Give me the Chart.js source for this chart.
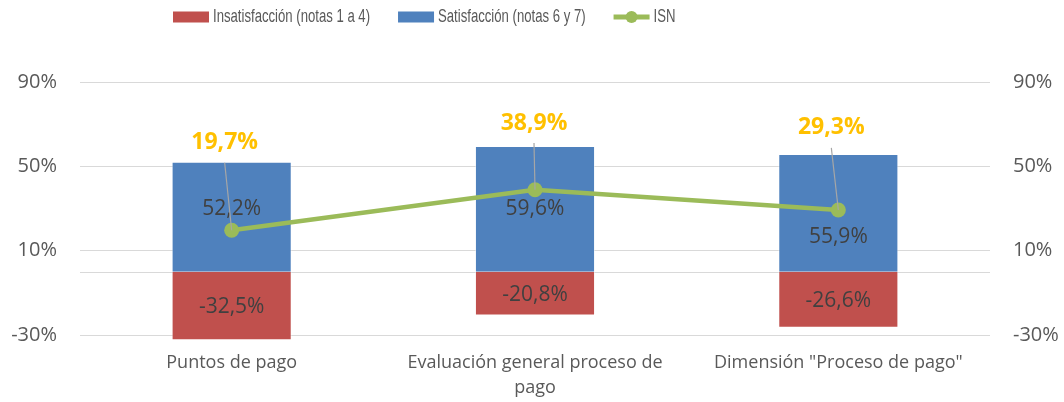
<!DOCTYPE html>
<html><head><meta charset="utf-8">
<script src="https://cdn.jsdelivr.net/npm/chart.js@4.4.0/dist/chart.umd.min.js"></script>
<style>html,body{margin:0;padding:0;background:#fff;}</style>
</head><body>
<canvas id="c" width="1064" height="402"></canvas>
<script>
const categories = ['Puntos de pago', ['Evaluación general proceso de', 'pago'], 'Dimensión "Proceso de pago"'];
const seriesNames = ['Insatisfacción (notas 1 a 4)', 'Satisfacción (notas 6 y 7)', 'ISN'];
const insatisfaccion = [-32.5, -20.8, -26.6];
const satisfaccion = [52.2, 59.6, 55.9];
const isn = [19.7, 38.9, 29.3];
const yTicks = [-30, 10, 50, 90];

const RED = '#C0504D', BLUE = '#4F81BD', GREEN = '#9BBB59', GOLD = '#FFC000';
const TICK = '#595959', LABEL = '#404040', GRID = '#D9D9D9';
const fmt = v => v.toFixed(1).replace('.', ',') + '%';

// label placement tweaks (pixels)
const blueLabelDy = [-8, 0, 24];
const isnLabelPos = [{dx: -7, dy: -19}, {dx: -1, dy: -23}, {dx: -7, dy: -26}];

const zeroLine = {
  id: 'zeroLine',
  beforeDatasetsDraw(chart) {
    const {ctx, chartArea, scales} = chart;
    const y = Math.round(scales.y.getPixelForValue(0)) + 0.5;
    ctx.save();
    ctx.strokeStyle = GRID; ctx.lineWidth = 1;
    ctx.beginPath(); ctx.moveTo(chartArea.left, y); ctx.lineTo(chartArea.right, y); ctx.stroke();
    ctx.restore();
  }
};

const valueLabels = {
  id: 'valueLabels',
  afterDatasetsDraw(chart) {
    const ctx = chart.ctx;
    const red = chart.getDatasetMeta(0).data;
    const blue = chart.getDatasetMeta(1).data;
    const pts = chart.getDatasetMeta(2).data;
    ctx.save();
    ctx.textAlign = 'center'; ctx.textBaseline = 'middle';
    ctx.font = '21px "Open Sans", sans-serif';
    ctx.fillStyle = LABEL;
    red.forEach((b, i) => ctx.fillText(fmt(insatisfaccion[i]), b.x, (b.y + b.base) / 2 + 1));
    blue.forEach((b, i) => ctx.fillText(fmt(satisfaccion[i]), b.x, (b.y + b.base) / 2 + blueLabelDy[i]));
    pts.forEach((p, i) => {
      const b = blue[i];
      const lx = b.x + isnLabelPos[i].dx, ly = b.y + isnLabelPos[i].dy;
      ctx.strokeStyle = '#A6A6A6'; ctx.lineWidth = 1.2;
      ctx.beginPath(); ctx.moveTo(lx, ly + 20); ctx.lineTo(p.x, p.y); ctx.stroke();
      ctx.font = 'bold 23px "Open Sans", sans-serif';
      ctx.fillStyle = GOLD;
      ctx.fillText(fmt(isn[i]), lx, ly);
    });
    ctx.restore();
  }
};

const customLegend = {
  id: 'customLegend',
  afterDraw(chart) {
    const ctx = chart.ctx;
    const y = 17;
    const sx = 0.73;
    let x = 173;
    ctx.save();
    ctx.font = '18px "Liberation Sans", Arial, sans-serif';
    ctx.textBaseline = 'middle'; ctx.textAlign = 'left';
    seriesNames.forEach((name, i) => {
      if (i < 2) {
        ctx.fillStyle = i === 0 ? RED : BLUE;
        ctx.fillRect(x, y - 5.5, 36, 11);
      } else {
        ctx.strokeStyle = GREEN; ctx.lineWidth = 5;
        ctx.beginPath(); ctx.moveTo(x, y); ctx.lineTo(x + 36, y); ctx.stroke();
        ctx.fillStyle = GREEN;
        ctx.beginPath(); ctx.arc(x + 18, y, 6, 0, Math.PI * 2); ctx.fill();
      }
      ctx.fillStyle = TICK;
      const tx = x + 40;
      ctx.save();
      ctx.translate(tx, y); ctx.scale(sx, 1);
      ctx.fillText(name, 0, 0);
      ctx.restore();
      x = tx + ctx.measureText(name).width * sx + 28;
    });
    ctx.restore();
  }
};

new Chart(document.getElementById('c'), {
  data: {
    labels: categories,
    datasets: [
      {type: 'bar', label: seriesNames[0], data: insatisfaccion, backgroundColor: RED, stack: 's', clip: false,
       borderColor: 'rgba(255,255,255,0.45)', borderWidth: 1,
       categoryPercentage: 0.396, barPercentage: 1, order: 1},
      {type: 'bar', label: seriesNames[1], data: satisfaccion, backgroundColor: BLUE, stack: 's', clip: false,
       borderColor: 'rgba(255,255,255,0.45)', borderWidth: 1,
       categoryPercentage: 0.396, barPercentage: 1, order: 1},
      {type: 'line', label: seriesNames[2], data: isn, borderColor: GREEN, backgroundColor: GREEN, borderWidth: 4.5,
       pointRadius: 7.5, pointBorderWidth: 0, pointBackgroundColor: GREEN, stack: 'isn', order: 0, tension: 0}
    ]
  },
  options: {
    responsive: false,
    animation: false,
    devicePixelRatio: 1,
    layout: {padding: {top: 82, bottom: 0, left: 0, right: 0}},
    plugins: {legend: {display: false}, tooltip: {enabled: false}},
    scales: {
      x: {
        stacked: true,
        grid: {display: false},
        border: {display: false},
        ticks: {color: TICK, font: {family: '"Open Sans", sans-serif', size: 18, lineHeight: 1.4},
                padding: 7, maxRotation: 0, autoSkip: false},
        afterFit(s) { s.height = 67; }
      },
      y: {
        stacked: true, position: 'left', min: -30, max: 90,
        afterBuildTicks(s) { s.ticks = yTicks.map(v => ({value: v})); },
        grid: {color: GRID, lineWidth: 1, drawTicks: false},
        border: {display: false},
        ticks: {color: TICK, font: {family: '"Open Sans", sans-serif', size: 20}, padding: 23,
                callback: v => v + '%'},
        afterFit(s) { s.width = 80; }
      },
      y2: {
        position: 'right', min: -30, max: 90,
        afterBuildTicks(s) { s.ticks = yTicks.map(v => ({value: v})); },
        grid: {display: false},
        border: {display: false},
        ticks: {color: TICK, font: {family: '"Open Sans", sans-serif', size: 20}, padding: 15,
                callback: v => v + '%'},
        afterFit(s) { s.width = 74; }
      }
    }
  },
  plugins: [zeroLine, valueLabels, customLegend]
});
</script>
</body></html>
